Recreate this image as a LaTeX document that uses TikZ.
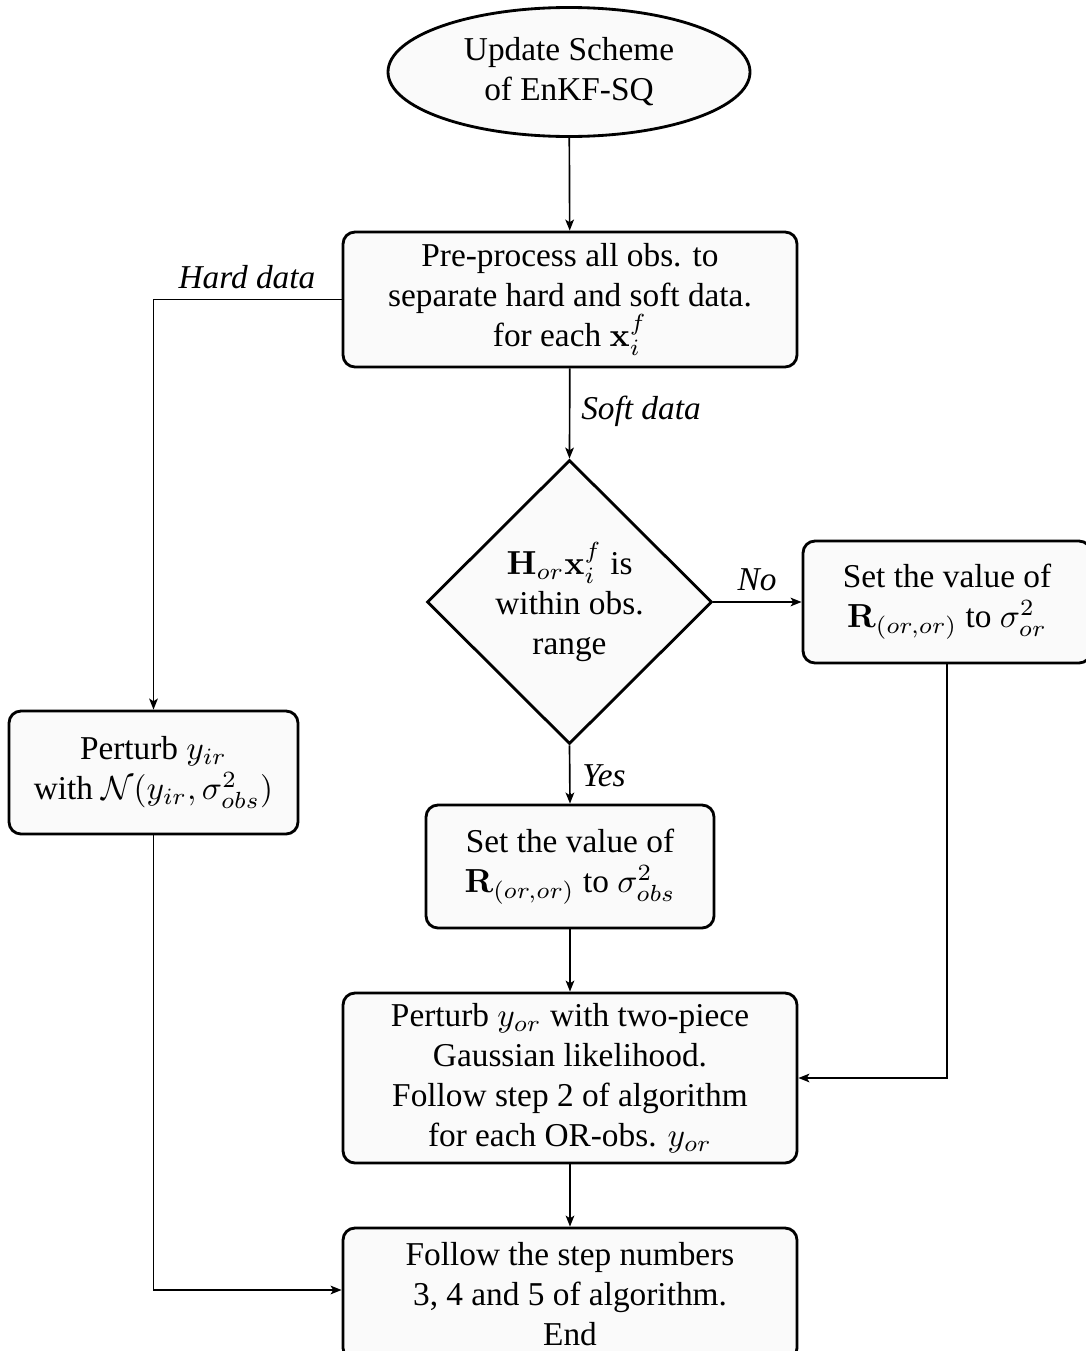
\documentclass[tikz,border=0pt]{standalone}
\usepackage[no-math]{fontspec}
\setmainfont{Liberation Serif}
\usetikzlibrary{shapes.geometric,arrows.meta}
\begin{document}
\begin{tikzpicture}[x=0.3pt,y=-0.3pt,
  every node/.style={font=\fontsize{10}{12}\selectfont},
  boxstyle/.style={draw, line width=0.85pt, rounded corners=3.6pt, fill=gray!4, align=center, inner sep=0pt},
  conn/.style={line width=0.5pt, -{Stealth[length=3.3pt,width=2.6pt,inset=0.8pt]}},
  lab/.style={font=\fontsize{10}{12}\selectfont\itshape}]
\useasboundingbox (0,0) rectangle (1085,1351);
\node[ellipse, draw, line width=0.85pt, fill=gray!4, align=center, inner sep=0pt,
  minimum width=108.6pt, minimum height=38.7pt] (start) at (569,72) {Update Scheme\\of EnKF-SQ};
\node[boxstyle, minimum width=136.2pt, minimum height=40.5pt] (pre) at (570,299.5)
  {Pre-process all obs. to\\separate hard and soft data.\\for each $\mathbf{x}_i^f$};
\node[diamond, draw, line width=0.85pt, fill=gray!4, align=center, inner sep=0pt,
  minimum width=85.5pt, minimum height=85.2pt] (dec) at (569.5,602)
  {$\mathbf{H}_{or}\mathbf{x}_i^f$ is\\within obs.\\range};
\node[boxstyle, minimum width=86.4pt, minimum height=36.6pt] (setor) at (947,602)
  {Set the value of\\$\mathbf{R}_{(or,or)}$ to $\sigma_{or}^2$};
\node[boxstyle, minimum width=86.7pt, minimum height=36.9pt] (pir) at (153.5,772.5)
  {Perturb $y_{ir}$\\with $\mathcal{N}(y_{ir},\sigma_{obs}^2)$};
\node[boxstyle, minimum width=86.4pt, minimum height=36.9pt] (setobs) at (570,866.5)
  {Set the value of\\$\mathbf{R}_{(or,or)}$ to $\sigma_{obs}^2$};
\node[boxstyle, minimum width=136.2pt, minimum height=51pt] (pyor) at (570,1078)
  {Perturb $y_{or}$ with two-piece\\Gaussian likelihood.\\Follow step 2 of algorithm\\for each OR-obs. $y_{or}$};
\node[boxstyle, minimum width=136.2pt, minimum height=39.6pt] (fol) at (570,1294)
  {Follow the step numbers\\3, 4 and 5 of algorithm.\\End};
\coordinate (c1) at (153.5,299.5);
\coordinate (c2) at (947,1078);
\coordinate (c3) at (153.5,1290);
\draw[conn] (start) -- (pre);
\draw[conn] (pre.west) -- (c1) -- (pir.north);
\node[lab] (lhard) at (247,277) {Hard data};
\draw[conn] (pre) -- (dec.north);
\node[lab] (lsoft) at (641,411) {Soft data};
\draw[conn] (dec.east) -- (setor.west);
\node[lab] (lno) at (757,580) {No};
\draw[conn] (dec.south) -- (setobs.north);
\node[lab] (lyes) at (604,776) {Yes};
\draw[conn] (setobs) -- (pyor);
\draw[conn] (setor.south) -- (c2) -- (pyor.east);
\draw[conn] (pyor) -- (fol);
\draw[conn] (pir.south) -- (c3) -- (fol.west |- c3);
\end{tikzpicture}
\end{document}
